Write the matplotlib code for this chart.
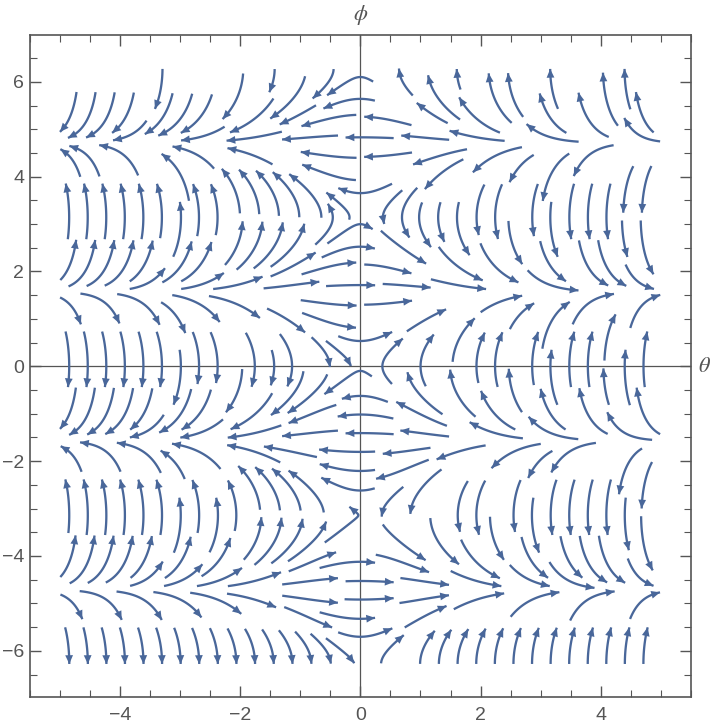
import numpy as np
import matplotlib
matplotlib.use('Agg')
import matplotlib.pyplot as plt
from matplotlib.patches import FancyArrowPatch

plt.rcParams['mathtext.fontset'] = 'stix'
plt.rcParams['font.family'] = ['Liberation Sans', 'DejaVu Sans']

# field: theta' = sin(phi), phi' = theta*cos(phi)
theta_range = [-5.0, 5.0]
phi_range = [-2 * np.pi, 2 * np.pi]
xticks = [-4, -2, 0, 2, 4]
yticks = [-6, -4, -2, 0, 2, 4, 6]

col = '#49679a'
grey = '#555555'

# pixels per data unit (used to integrate streamlines in screen space)
sx, sy = 60.0, 47.45
d_sep = 18.5     # spacing between stream lines, px
d_test = 7.5     # stop a line when it gets this close to another
half_len = 28.0  # max length each way from the seed, px
h = 1.0          # step, px


def vel(x, y):
    u = np.sin(y)
    v = x * np.cos(y)
    return u * sx, v * sy, np.hypot(u, v)


occupied = {}


def key(px, py):
    return (int(px // d_sep), int(py // d_sep))


def too_close(px, py, dist, own):
    kx, ky = key(px, py)
    for i in (kx - 1, kx, kx + 1):
        for j in (ky - 1, ky, ky + 1):
            for (qx, qy, lid) in occupied.get((i, j), []):
                if lid != own and (qx - px) ** 2 + (qy - py) ** 2 < dist ** 2:
                    return True
    return False


x0, x1 = theta_range[0] * sx, theta_range[1] * sx
y0, y1 = phi_range[0] * sy, phi_range[1] * sy


def trace(px, py, sign, lid):
    pts = []
    length = 0.0
    while length < half_len:
        u, v, sp = vel(px / sx, py / sy)
        if sp < 0.03:
            break
        n = np.hypot(u, v)
        mx = px + sign * 0.5 * h * u / n
        my = py + sign * 0.5 * h * v / n
        u2, v2, sp2 = vel(mx / sx, my / sy)
        n2 = np.hypot(u2, v2)
        if sp2 < 0.03:
            break
        nx = px + sign * h * u2 / n2
        ny = py + sign * h * v2 / n2
        if nx < x0 or nx > x1 or ny < y0 or ny > y1:
            break
        if too_close(nx, ny, d_test, lid):
            break
        px, py = nx, ny
        pts.append((px, py))
        length += h
    return pts


lines = []
lid = 0
seed_x = np.arange(x0 + d_sep / 2, x1, d_sep)
seed_y = np.arange(y0 + d_sep / 2, y1, d_sep)
for syy in seed_y:
    for sxx in seed_x:
        if too_close(sxx, syy, d_sep * 0.8, -1):
            continue
        fwd = trace(sxx, syy, 1, lid)
        bwd = trace(sxx, syy, -1, lid)
        pts = bwd[::-1] + [(sxx, syy)] + fwd
        if len(pts) * h < 4:
            continue
        for (qx, qy) in pts:
            occupied.setdefault(key(qx, qy), []).append((qx, qy, lid))
        lines.append(np.array(pts))
        lid += 1

fig = plt.figure(figsize=(7.2, 7.27), dpi=100)
ax = fig.add_axes([0.0413, 0.0409, 0.9184, 0.9105])

for pts in lines:
    xs = pts[:, 0] / sx
    ys = pts[:, 1] / sy
    ax.plot(xs, ys, color=col, lw=1.65, solid_capstyle='butt', zorder=2)
    if len(pts) > 14:
        ar = FancyArrowPatch((xs[-8], ys[-8]), (xs[-1], ys[-1]),
                             arrowstyle='-|>,head_length=0.45,head_width=0.2',
                             mutation_scale=14, color=col, lw=0,
                             shrinkA=0, shrinkB=0, zorder=3)
        ax.add_patch(ar)

ax.set_xlim(-5.5, 5.5)
ax.set_ylim(-6.98, 6.98)
ax.axhline(0, color=grey, lw=0.9, zorder=0)
ax.axvline(0, color=grey, lw=0.9, zorder=0)

ax.set_xticks(xticks)
ax.set_yticks(yticks)
ax.set_xticklabels([str(t).replace('-', '\u2212') for t in xticks])
ax.set_yticklabels([str(t).replace('-', '\u2212') for t in yticks])
ax.set_xticks(np.arange(-5.5, 5.6, 0.5), minor=True)
ax.set_yticks(np.arange(-6.5, 6.6, 0.5), minor=True)
ax.tick_params(which='both', direction='in', top=True, right=True,
               color=grey, labelcolor=grey, labelsize=14)
ax.tick_params(which='major', length=8, width=1)
ax.tick_params(which='minor', length=5, width=0.8)
ax.tick_params(axis='x', pad=7)
ax.tick_params(axis='y', pad=4)
for s in ax.spines.values():
    s.set_color(grey)
    s.set_linewidth(1.2)

ax.text(5.62, 0, r'$\theta$', fontsize=16, color=grey, va='center', ha='left',
        clip_on=False)
ax.text(0, 7.4, r'$\phi$', fontsize=16, color=grey, va='center', ha='center',
        clip_on=False)

fig.savefig('out.png', dpi=100)
